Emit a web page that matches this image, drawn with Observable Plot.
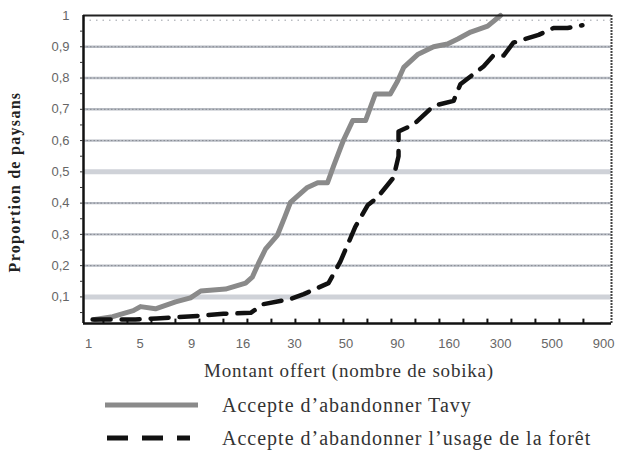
<!DOCTYPE html>
<html><head><meta charset="utf-8">
<script src="https://cdn.jsdelivr.net/npm/d3@7"></script>
<script src="https://cdn.jsdelivr.net/npm/@observablehq/plot@0.6"></script>
<style>
body{margin:0;background:#fff;}
#wrap{width:624px;height:460px;position:relative;overflow:hidden;}
#chart{position:absolute;left:0;top:0;}
.serif{font-family:"Liberation Serif","DejaVu Serif",serif;color:#333;}
#xtitle{position:absolute;left:0;width:624px;top:360px;text-align:center;padding-left:74px;box-sizing:border-box;font-size:19px;letter-spacing:0.8px;}
#ytitle{position:absolute;left:15px;top:182px;transform:translate(-50%,-50%) rotate(-90deg);white-space:nowrap;font-size:16px;font-weight:bold;letter-spacing:1.3px;color:#222;}
.leg{position:absolute;left:0;width:624px;height:26px;}
.leg svg{position:absolute;left:100px;top:0;}
.leg span{position:absolute;left:222px;top:0px;font-size:20px;line-height:26px;white-space:nowrap;letter-spacing:1px;}
</style></head><body>
<div id="wrap">
<div id="chart"></div>
<div id="ytitle" class="serif">Proportion de paysans</div>
<div id="xtitle" class="serif">Montant offert (nombre de sobika)</div>
<div class="leg" style="top:392px"><svg width="110" height="26"><line x1="5" x2="98" y1="13" y2="13" stroke="#8a8a8a" stroke-width="5"/></svg><span class="serif">Accepte d’abandonner Tavy</span></div>
<div class="leg" style="top:425px"><svg width="110" height="26"><line x1="7" x2="90" y1="13" y2="13" stroke="#111" stroke-width="5" stroke-dasharray="21,14"/></svg><span class="serif">Accepte d’abandonner l’usage de la forêt</span></div>
</div>
<script>
// x tick labels (amount offered, evenly spaced categories)
const xLabels = ["1","5","9","16","30","50","90","160","300","500","900"];
// positions along the x axis are in label-index units (0 = "1", 10 = "900")
const tavyX = [0.12,0.47,0.87,1.01,1.30,1.69,1.98,2.18,2.66,3.05,3.18,3.30,3.44,3.67,3.81,3.92,4.25,4.45,4.64,4.76,4.95,5.13,5.38,5.57,5.86,6.00,6.12,6.39,6.70,6.97,7.17,7.42,7.75,8.00];
const tavyY = [0.028,0.037,0.056,0.069,0.062,0.084,0.097,0.119,0.125,0.144,0.163,0.207,0.254,0.298,0.355,0.402,0.450,0.465,0.465,0.519,0.601,0.664,0.664,0.749,0.749,0.790,0.834,0.875,0.900,0.909,0.925,0.947,0.966,1.0];
const foretX = [0.08,0.91,1.32,2.18,2.62,3.15,3.40,3.92,4.18,4.66,4.89,5.18,5.42,5.61,5.92,6.02,6.02,6.31,6.70,7.09,7.22,7.67,7.86,8.06,8.25,8.74,9.03,9.30,9.59];
const foretY = [0.028,0.028,0.031,0.040,0.046,0.049,0.077,0.093,0.109,0.144,0.213,0.324,0.393,0.418,0.481,0.550,0.629,0.651,0.711,0.727,0.780,0.837,0.872,0.872,0.913,0.938,0.960,0.960,0.969];
const yTicks = [0.1,0.2,0.3,0.4,0.5,0.6,0.7,0.8,0.9,1];
const yGridThin = [0.2,0.3,0.4,0.6,0.7,0.8,0.9];
const yGridThick = [0.1,0.5];

const tavy = tavyX.map((x,i)=>({x, y:tavyY[i]}));
const foret = foretX.map((x,i)=>({x, y:foretY[i]}));
const xMin = -0.097, xMax = 10.155, yMin = 0.015, yMax = 1;
const xMinor = d3.range(0.29, 9.7, 0.466);
const yMinor = d3.range(0.05, 1.0, 0.05);

const chart = Plot.plot({
  width: 624, height: 355,
  marginLeft: 83, marginRight: 13, marginTop: 15, marginBottom: 32,
  x: {type: "linear", domain: [xMin, xMax]},
  y: {domain: [yMin, yMax]},
  style: {background: "#fff"},
  marks: [
    Plot.ruleY(yGridThick, {stroke: "#cfd2d8", strokeWidth: 5}),
    Plot.ruleY(yGridThin, {stroke: "#b8bcc4", strokeWidth: 2.4}),
    Plot.ruleY(yGridThin, {stroke: "#868a92", strokeWidth: 1, strokeDasharray: "1.5,2"}),
    Plot.ruleY([0.985], {stroke: "#9a9ea6", strokeWidth: 1, strokeDasharray: "1.5,5"}),
    Plot.line(tavy, {x: "x", y: "y", stroke: "#8a8a8a", strokeWidth: 5, strokeLinejoin: "round"}),
    Plot.line(foret, {x: "x", y: "y", stroke: "#111", strokeWidth: 4.5, strokeLinejoin: "round", strokeDasharray: "18,11"}),
    Plot.ruleY([yMax], {stroke: "#222", strokeWidth: 2}),
    Plot.ruleX([xMax], {stroke: "#444", strokeWidth: 2, strokeDasharray: "2,1"}),
    Plot.ruleX(xMinor, {y1: yMin, y2: yMin + 0.014, stroke: "#111", strokeWidth: 2}),
    Plot.ruleX([xMin], {stroke: "#111", strokeWidth: 2.5}),
    Plot.ruleY([yMin], {stroke: "#111", strokeWidth: 2.5}),
    Plot.axisY(yMinor, {tickSize: 3, tickFormat: () => "", stroke: "#333", label: null}),
    Plot.axisY(yTicks, {tickSize: 0, tickPadding: 14, tickFormat: d => String(d).replace(".", ","), fontSize: 13, fill: "#666", fontFamily: "Liberation Sans, Arial, sans-serif", label: null}),
    Plot.axisX(d3.range(xLabels.length), {tickSize: 0, tickPadding: 15, tickFormat: i => xLabels[i], fontSize: 13, fill: "#666", fontFamily: "Liberation Sans, Arial, sans-serif", label: null})
  ]
});
document.getElementById("chart").appendChild(chart);
</script>
</body></html>
